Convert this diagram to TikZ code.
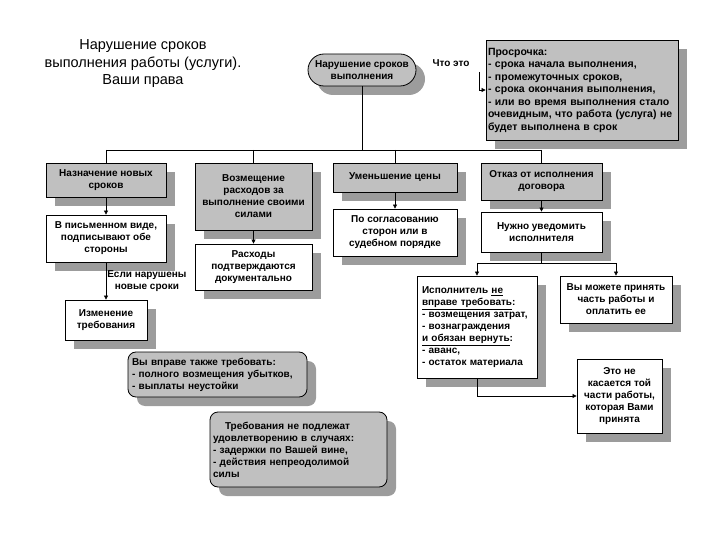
\documentclass[tikz,border=0pt]{standalone}
\usepackage{fontspec}
\setmainfont{Liberation Sans}
\usetikzlibrary{positioning, arrows.meta, shapes.misc, shadows}
\definecolor{boxGray}{HTML}{C0C0C0}
\definecolor{shadeGray}{HTML}{9C9C9C}

\begin{document}
\begin{tikzpicture}[x=1pt, y=-1pt,
  base/.style={draw, line width=0.8pt, align=center, inner sep=2pt,
               font=\fontsize{10}{12}\selectfont\bfseries,
               general shadow={fill=shadeGray, shadow xshift=9pt, shadow yshift=-9pt}},
  graybox/.style={base, fill=boxGray},
  whitebox/.style={base, fill=white},
  roundbox/.style={base, fill=boxGray, rounded corners=8pt, align=left},
  arr/.style={-{Triangle[length=4pt, width=4pt]}, line width=0.6pt},
  link/.style={line width=0.6pt},
]
  \useasboundingbox (0,0) rectangle (720,540);

  \node[font=\fontsize{14.5}{17.5}\selectfont, align=center] (title) at (143,64)
    {Нарушение сроков\\выполнения работы (услуги).\\Ваши права};

  \node[graybox, rounded rectangle, minimum width=112pt, minimum height=32pt] (top) at (362,70)
    {Нарушение сроков\\выполнения};
  \node[font=\fontsize{10}{12}\selectfont\bfseries] (what) at (451,63) {Что это};
  \node[graybox, align=left, text width=188pt, minimum height=100pt, inner sep=2pt,
        font=\fontsize{10.5}{12.5}\selectfont\bfseries] (late) at (582,90)
    {Просрочка:\\
     - срока начала выполнения,\\
     - промежуточных сроков,\\
     - срока окончания выполнения,\\
     - или во время выполнения стало\\
     очевидным, что работа (услуга) не\\
     будет выполнена в срок};

  \node[graybox, minimum width=120pt, minimum height=34pt] (n1) at (106,180)
    {Назначение новых\\сроков};
  \node[graybox, minimum width=117pt, minimum height=67pt] (n2) at (253.5,196.5)
    {Возмещение\\расходов за\\выполнение своими\\силами};
  \node[graybox, minimum width=124pt, minimum height=29pt] (n3) at (395,177.5)
    {Уменьшение цены};
  \node[graybox, minimum width=121pt, minimum height=37pt] (n4) at (541.5,181.5)
    {Отказ от исполнения\\договора};

  \node[whitebox, minimum width=120pt, minimum height=47pt] (c1) at (106,238.5)
    {В письменном виде,\\подписывают обе\\стороны};
  \node[whitebox, minimum width=117pt, minimum height=46pt] (c2) at (253.5,267)
    {Расходы\\подтверждаются\\документально};
  \node[whitebox, minimum width=124pt, minimum height=47pt] (c3) at (395,232.5)
    {По согласованию\\сторон или в\\судебном порядке};
  \node[whitebox, minimum width=121pt, minimum height=40pt] (c4) at (541.5,232)
    {Нужно уведомить\\исполнителя};

  \node[whitebox, minimum width=82pt, minimum height=40pt] (d1) at (106,320)
    {Изменение\\требования};

  \node[whitebox, align=left, text width=110pt, minimum height=102pt, inner sep=5pt] (e1) at (477,327)
    {Исполнитель \underline{не}\\
     \underline{вправе требовать}:\\
     - возмещения затрат,\\
     - вознаграждения\\
     \underline{и обязан вернуть}:\\
     - аванс,\\
     - остаток материала};
  \node[whitebox, minimum width=112pt, minimum height=47pt] (e2) at (616,299.5)
    {Вы можете принять\\часть работы и\\оплатить ее};
  \node[whitebox, minimum width=85pt, minimum height=74pt] (f) at (619.5,396)
    {Это не\\касается той\\части работы,\\которая Вами\\принята};

  \node[roundbox, text width=171pt, minimum height=45pt, inner sep=4pt] (g) at (217.5,374.5)
    {Вы вправе также требовать:\\
     - полного возмещения убытков,\\
     - выплаты неустойки};
  \node[roundbox, text width=171pt, minimum height=75pt, inner sep=3pt] (h) at (298.5,449.5)
    {\hspace*{1.2em}Требования не подлежат\\
     удовлетворению в случаях:\\
     - задержки по Вашей вине,\\
     - действия непреодолимой\\
     силы};

  \coordinate (bus) at (362,150);
  \draw[link] (top) -- (bus);
  \draw[link] (n1.north |- bus) -- (n4.north |- bus);
  \foreach \n in {n1,n2,n3,n4}
    \draw[link] (\n.north |- bus) -- (\n.north);
  \foreach \a/\b in {n1/c1, n2/c2, n3/c3, n4/c4}
    \draw[arr] (\a) -- (\b);

  \draw[arr] (c1) -- node[right, font=\fontsize{10}{12}\selectfont\bfseries, align=center, inner sep=1pt]
    {Если нарушены\\новые сроки} (d1);

  \coordinate (split) at (541.5,263);
  \draw[link] (c4) -- (split);
  \draw[arr] (split) -| (e1);
  \draw[arr] (split) -| (e2);
  \draw[arr] (e1) |- (f);

  \coordinate (q) at (479,72);
  \draw[arr] (q) |- (late);
\end{tikzpicture}
\end{document}
